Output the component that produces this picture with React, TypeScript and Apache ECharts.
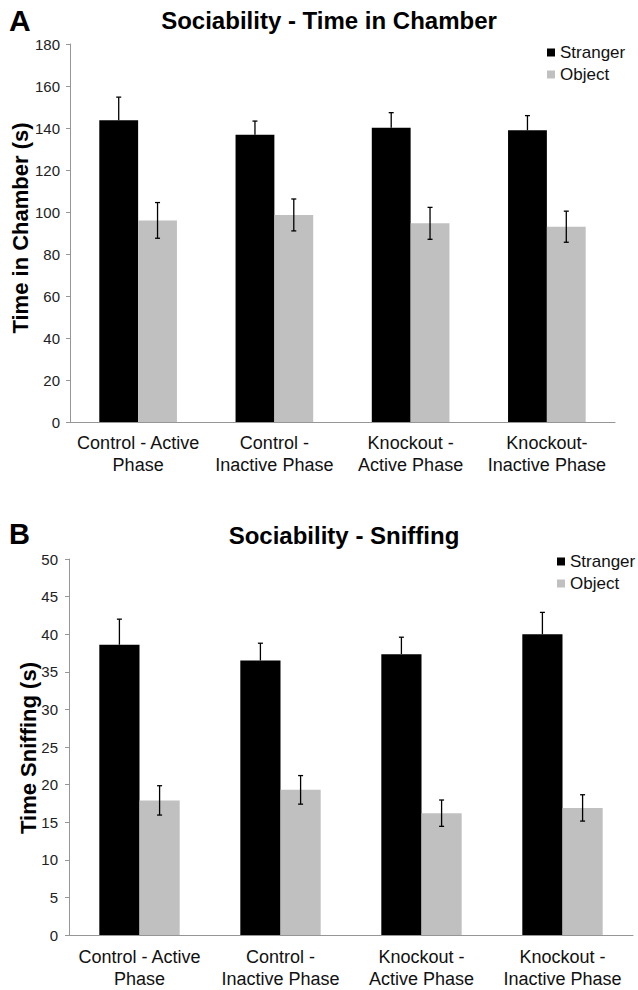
import React, { useEffect, useRef } from "react";
import * as echarts from "echarts";

const categoriesA = ["Control - Active\nPhase", "Control -\nInactive Phase", "Knockout -\nActive Phase", "Knockout-\nInactive Phase"];
const categoriesB = ["Control - Active\nPhase", "Control -\nInactive Phase", "Knockout -\nActive Phase", "Knockout -\nInactive Phase"];

const strangerA = [143.7, 136.8, 140.1, 138.9];
const strangerErrA = [11.0, 6.5, 7.2, 7.0];
const objectA = [96.0, 98.6, 94.6, 93.0];
const objectErrA = [8.5, 7.6, 7.6, 7.4];

const strangerB = [38.6, 36.5, 37.35, 40.0];
const strangerErrB = [3.4, 2.3, 2.25, 2.9];
const objectB = [17.9, 19.3, 16.2, 16.9];
const objectErrB = [1.95, 1.9, 1.75, 1.75];

const yTicksA = { min: 0, max: 180, interval: 20 };
const yTicksB = { min: 0, max: 50, interval: 5 };

const FONT = "'Liberation Sans', Arial, Helvetica, sans-serif";
const BLACK = "#000000";
const GRAY = "#c0c0c0";
const AXIS = "#969696";

function errRenderer(side: number, upOnly: boolean) {
  return (_params: any, api: any) => {
    const i = api.value(0);
    const v = api.value(1);
    const e = api.value(2);
    const band = api.size([1, 0])[0];
    const bw = band * 0.285;
    const c = api.coord([i, v]);
    const x = c[0] + (side * bw) / 2;
    const top = api.coord([i, v + e])[1];
    const bot = upOnly ? c[1] : api.coord([i, v - e])[1];
    const cap = 2.5;
    const st = { stroke: "#000", lineWidth: 1.3 };
    const children: any[] = [
      { type: "line", shape: { x1: x, y1: top, x2: x, y2: bot }, style: st },
      { type: "line", shape: { x1: x - cap, y1: top, x2: x + cap, y2: top }, style: st },
    ];
    if (!upOnly) {
      children.push({ type: "line", shape: { x1: x - cap, y1: bot, x2: x + cap, y2: bot }, style: st });
    }
    return { type: "group", children };
  };
}

export default function App() {
  const ref = useRef<HTMLDivElement>(null);
  useEffect(() => {
    if (!ref.current) return;
    const chart = echarts.init(ref.current, undefined, { renderer: "svg" });

    const yAxisCommon = (t: any, margin: number) => ({
      type: "value",
      min: t.min,
      max: t.max,
      interval: t.interval,
      axisLine: { show: true, lineStyle: { color: AXIS, width: 1 } },
      axisTick: { show: true, length: 4, lineStyle: { color: AXIS } },
      splitLine: { show: false },
      axisLabel: { fontSize: 15, color: "#222", fontFamily: FONT, margin },
    });
    const xAxisCommon = (cats: string[], margin: number) => ({
      type: "category",
      data: cats,
      axisLine: { show: true, lineStyle: { color: AXIS, width: 1.2 } },
      axisTick: { show: false },
      axisLabel: { fontSize: 18, lineHeight: 22, color: "#111", fontFamily: FONT, margin, interval: 0 },
    });

    const errData = (vals: number[], errs: number[]) => vals.map((v, i) => [i, v, errs[i]]);

    const legendCommon = {
      data: ["Stranger", "Object"],
      orient: "vertical",
      icon: "rect",
      itemWidth: 8,
      itemHeight: 8,
      itemGap: 5,
      textStyle: { fontSize: 17, lineHeight: 17, color: "#111", fontFamily: FONT },
    };

    chart.setOption({
      animation: false,
      backgroundColor: "#ffffff",
      grid: [
        { left: 70, top: 44, width: 545, height: 378 },
        { left: 69, top: 559, width: 564, height: 378 },
      ],
      xAxis: [
        { ...xAxisCommon(categoriesA, 10), gridIndex: 0 },
        { ...xAxisCommon(categoriesB, 11), gridIndex: 1 },
      ],
      yAxis: [
        { ...yAxisCommon(yTicksA, 10), gridIndex: 0 },
        { ...yAxisCommon(yTicksB, 11), gridIndex: 1 },
      ],
      legend: [
        { ...legendCommon, left: 542, top: 39 },
        { ...legendCommon, left: 552, top: 548 },
      ],
      graphic: [
        { type: "text", left: 9, top: 5, style: { text: "A", font: `bold 30px ${FONT}`, fill: "#000" } },
        { type: "text", left: 9, top: 519, style: { text: "B", font: `bold 29px ${FONT}`, fill: "#000" } },
        {
          type: "text", x: 329, y: 20,
          style: { text: "Sociability - Time in Chamber", font: `bold 24px ${FONT}`, fill: "#000", textAlign: "center", textVerticalAlign: "middle" },
        },
        {
          type: "text", x: 344, y: 535,
          style: { text: "Sociability - Sniffing", font: `bold 24px ${FONT}`, fill: "#000", textAlign: "center", textVerticalAlign: "middle" },
        },
        {
          type: "text", x: 20, y: 228, rotation: Math.PI / 2,
          style: { text: "Time in Chamber (s)", font: `bold 22px ${FONT}`, fill: "#000", textAlign: "center", textVerticalAlign: "middle" },
        },
        {
          type: "text", x: 28, y: 748, rotation: Math.PI / 2,
          style: { text: "Time Sniffing (s)", font: `bold 22px ${FONT}`, fill: "#000", textAlign: "center", textVerticalAlign: "middle" },
        },
      ],
      series: [
        { name: "Stranger", type: "bar", xAxisIndex: 0, yAxisIndex: 0, data: strangerA, itemStyle: { color: BLACK }, barGap: "0%", barCategoryGap: "43%" },
        { name: "Object", type: "bar", xAxisIndex: 0, yAxisIndex: 0, data: objectA, itemStyle: { color: GRAY }, barGap: "0%", barCategoryGap: "43%" },
        { name: "Stranger", type: "bar", xAxisIndex: 1, yAxisIndex: 1, data: strangerB, itemStyle: { color: BLACK }, barGap: "0%", barCategoryGap: "43%" },
        { name: "Object", type: "bar", xAxisIndex: 1, yAxisIndex: 1, data: objectB, itemStyle: { color: GRAY }, barGap: "0%", barCategoryGap: "43%" },
        { name: "errSA", type: "custom", xAxisIndex: 0, yAxisIndex: 0, data: errData(strangerA, strangerErrA), encode: { x: 0, y: 1 }, renderItem: errRenderer(-1, true), z: 5 },
        { name: "errOA", type: "custom", xAxisIndex: 0, yAxisIndex: 0, data: errData(objectA, objectErrA), encode: { x: 0, y: 1 }, renderItem: errRenderer(1, false), z: 5 },
        { name: "errSB", type: "custom", xAxisIndex: 1, yAxisIndex: 1, data: errData(strangerB, strangerErrB), encode: { x: 0, y: 1 }, renderItem: errRenderer(-1, true), z: 5 },
        { name: "errOB", type: "custom", xAxisIndex: 1, yAxisIndex: 1, data: errData(objectB, objectErrB), encode: { x: 0, y: 1 }, renderItem: errRenderer(1, false), z: 5 },
      ],
    });
    return () => chart.dispose();
  }, []);
  return <div ref={ref} style={{ position: "fixed", left: 0, top: 0, width: 638, height: 990, background: "#fff" }} />;
}
